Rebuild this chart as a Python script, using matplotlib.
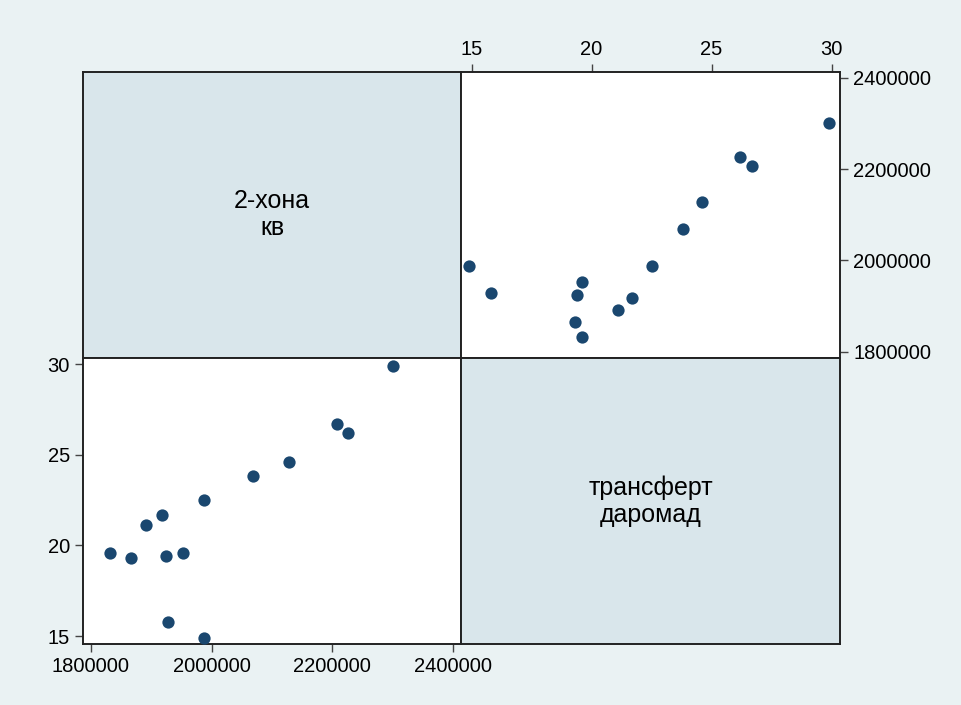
import matplotlib
matplotlib.use("Agg")
import matplotlib.pyplot as plt

plt.rcParams['font.family'] = ['Liberation Sans', 'DejaVu Sans']

# Data: 2-room apartment price (kv) vs transfer income
transfer_income = [1832000, 1866000, 1892000, 1918000, 1925000, 1928000, 1953000,
                   1987000, 1987000, 2069000, 2128000, 2207000, 2226000, 2300000]
kv_price = [19.6, 19.3, 21.1, 21.7, 19.4, 15.8, 19.6,
            22.5, 14.9, 23.8, 24.6, 26.7, 26.2, 29.9]

var_labels = ["2-хона\nкв", "трансферт\nдаромад"]
kv_ticks = [15, 20, 25, 30]
income_ticks = [1800000, 2000000, 2200000, 2400000]
kv_lim = (14.56, 30.35)
income_lim = (1787000, 2413000)

bg = '#EAF2F3'
diag_fill = '#D9E6EB'
marker_color = '#1A476F'

fig = plt.figure(figsize=(9.62, 7.05), dpi=100, facecolor=bg)

L, M, R = 83/962, 461/962, 840/962
T, MID, B = 1-71.7/705, 1-357.7/705, 1-644/705
w = M - L
h = T - MID

ax_tl = fig.add_axes([L, MID, w, h])
ax_tr = fig.add_axes([M, MID, R - M, h])
ax_bl = fig.add_axes([L, B, w, MID - B])
ax_br = fig.add_axes([M, B, R - M, MID - B])

for ax in (ax_tl, ax_tr, ax_bl, ax_br):
    for s in ax.spines.values():
        s.set_linewidth(1.4)
        s.set_color('#222222')
    ax.tick_params(length=5.5, width=1.0, color='#444444', labelsize=14.5, pad=4)

for ax, lab in ((ax_tl, var_labels[0]), (ax_br, var_labels[1])):
    ax.set_facecolor(diag_fill)
    ax.set_xticks([])
    ax.set_yticks([])
    ax.text(0.5, 0.5, lab, transform=ax.transAxes, ha='center', va='center',
            fontsize=18, linespacing=1.15)

# top-right: x = kv, y = income
ax_tr.set_facecolor('white')
ax_tr.scatter(kv_price, transfer_income, s=78, color=marker_color, zorder=3, linewidths=0)
ax_tr.set_xlim(*kv_lim)
ax_tr.set_ylim(*income_lim)
ax_tr.set_xticks(kv_ticks)
ax_tr.set_yticks(income_ticks)
ax_tr.set_yticklabels([str(v) for v in income_ticks])
ax_tr.xaxis.tick_top()
ax_tr.yaxis.tick_right()

# bottom-left: x = income, y = kv
ax_bl.set_facecolor('white')
ax_bl.scatter(transfer_income, kv_price, s=78, color=marker_color, zorder=3, linewidths=0)
ax_bl.set_xlim(*income_lim)
ax_bl.set_ylim(*kv_lim)
ax_bl.set_xticks(income_ticks)
ax_bl.set_xticklabels([str(v) for v in income_ticks])
ax_bl.set_yticks(kv_ticks)

fig.savefig('out.png', dpi=100, facecolor=bg)
